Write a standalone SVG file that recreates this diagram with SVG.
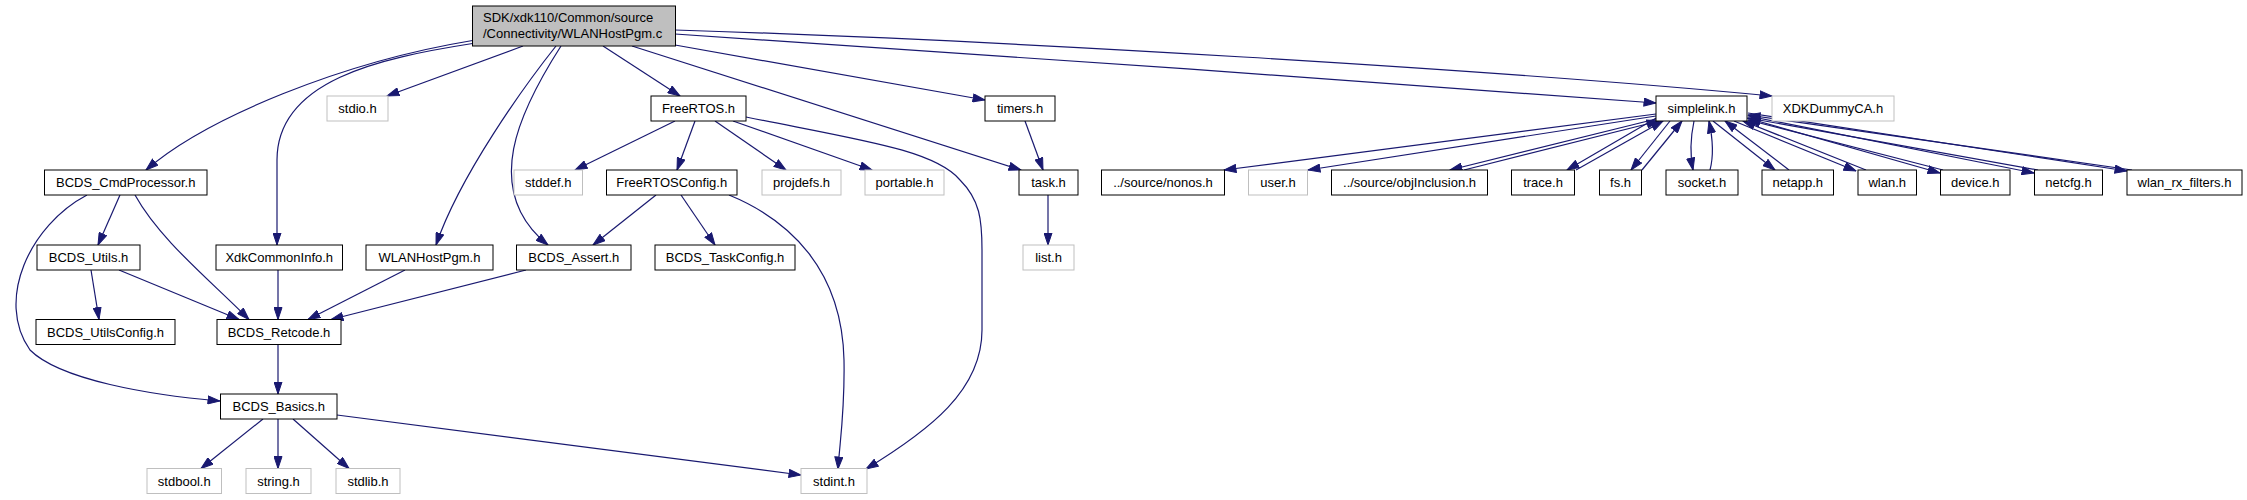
<svg xmlns="http://www.w3.org/2000/svg" width="2247" height="500" viewBox="0 0 2247 500">
<style>
.n rect{fill:#ffffff;stroke:#000000;stroke-width:1}
.n.g rect{stroke:#bfbfbf}
.n.m rect{fill:#bfbfbf}
text{font-family:"Liberation Sans",Arial,sans-serif;font-size:13px;fill:#000000;text-anchor:middle}
.n.m text{text-anchor:start}
#edges path{fill:none;stroke:#191970;stroke-width:1.2;marker-end:url(#a)}
</style>
<defs>
<marker id="a" markerWidth="13" markerHeight="9" refX="12.5" refY="4.5" orient="auto" markerUnits="userSpaceOnUse">
<path d="M0.5,0.5 L12.5,4.5 L0.5,8.5 z" fill="#191970" stroke="#191970" stroke-width="1"/>
</marker>
</defs>
<rect width="2247" height="500" fill="#ffffff"/>
<g id="edges">
<path d="M472.5,40.5 C342,62 206,118 146,170"/>
<path d="M472.5,43.5 C380,58 277,80 277,160 L277,245"/>
<path d="M523,46 L387,96"/>
<path d="M556,46 C525,85 460,175 436,245"/>
<path d="M561,46 C520,110 480,190 548,245"/>
<path d="M603,46 L680,96"/>
<path d="M632,46 L1021,170"/>
<path d="M675,45 L985,100"/>
<path d="M675,34 C900,49 1400,83 1656,103"/>
<path d="M675,30 C1000,40 1500,70 1772,96"/>
<path d="M675,121 L575,170"/>
<path d="M695,121 L677,170"/>
<path d="M715,121 L786,170"/>
<path d="M733,121 L872,170"/>
<path d="M746,117 C860,140 935,150 960,180 C980,200 982,220 982,250 L982,330 C982,390 930,430 866,469"/>
<path d="M656,195 L593,245"/>
<path d="M681,195 L715,245"/>
<path d="M729,195 C790,220 842,270 844,360 C845,410 840,440 838,469"/>
<path d="M120,195 L98,245"/>
<path d="M135,195 C160,240 210,280 249,319.5"/>
<path d="M87,195 C30,225 -5,300 30,350 C60,380 150,395 220,401"/>
<path d="M91,270 L99,319.5"/>
<path d="M119,270 L239,319.5"/>
<path d="M278,270 L278,319.5"/>
<path d="M405,270 L308,319.5"/>
<path d="M526,270 L331,319.5"/>
<path d="M278,345 L278,394"/>
<path d="M263,419 L201,468.5"/>
<path d="M278,419 L278,468.5"/>
<path d="M293,419 L349,468.5"/>
<path d="M337,415 L801,475"/>
<path d="M1025,121 L1043,170"/>
<path d="M1048,195 L1048,245"/>
<path d="M1656,114 L1224,170"/>
<path d="M1656,116 L1308,170"/>
<path d="M1656,119 L1450,170"/>
<path d="M1464,170 L1659,121"/>
<path d="M1658,117 L1567,170"/>
<path d="M1576,170 L1663,121"/>
<path d="M1670,121 L1631,170"/>
<path d="M1642,170 L1682,121"/>
<path d="M1694,121 C1690,140 1690,155 1693,170"/>
<path d="M1710,170 C1714,155 1712,135 1709,121"/>
<path d="M1713,121 L1775,170"/>
<path d="M1789,170 L1725,121"/>
<path d="M1734,121 L1856,171"/>
<path d="M1866,170 L1743,121"/>
<path d="M1747,118 L1940,173"/>
<path d="M1943,170 L1748,120"/>
<path d="M1748,116 L2034,173"/>
<path d="M2038,170 L1748,118"/>
<path d="M1748,113 L2127,171"/>
<path d="M2132,170 L1748,115"/>
</g>
<g id="n_main" class="n m"><rect x="472.5" y="6" width="203" height="40"/><text x="483" y="21.5">SDK/xdk110/Common/source</text><text x="483" y="38">/Connectivity/WLANHostPgm.c</text></g>
<g id="n_stdio" class="n g"><rect x="327" y="96" width="61" height="25"/><text x="357.5" y="113">stdio.h</text></g>
<g id="n_freertos" class="n"><rect x="651" y="96" width="95" height="25"/><text x="698.5" y="113">FreeRTOS.h</text></g>
<g id="n_timers" class="n"><rect x="985" y="96" width="70" height="25"/><text x="1020" y="113">timers.h</text></g>
<g id="n_simplelink" class="n"><rect x="1656" y="96" width="91" height="25"/><text x="1701.5" y="113">simplelink.h</text></g>
<g id="n_xdkdummyca" class="n g"><rect x="1772" y="96" width="122" height="25"/><text x="1833" y="113">XDKDummyCA.h</text></g>
<g id="n_cmdprocessor" class="n"><rect x="44.5" y="170" width="162.5" height="25"/><text x="125.75" y="187">BCDS_CmdProcessor.h</text></g>
<g id="n_stddef" class="n g"><rect x="514" y="170" width="68.5" height="25"/><text x="548.25" y="187">stddef.h</text></g>
<g id="n_freertosconfig" class="n"><rect x="606.5" y="170" width="130.5" height="25"/><text x="671.75" y="187">FreeRTOSConfig.h</text></g>
<g id="n_projdefs" class="n g"><rect x="762" y="170" width="79" height="25"/><text x="801.5" y="187">projdefs.h</text></g>
<g id="n_portable" class="n g"><rect x="865" y="170" width="79" height="25"/><text x="904.5" y="187">portable.h</text></g>
<g id="n_task" class="n"><rect x="1019" y="170" width="59" height="25"/><text x="1048.5" y="187">task.h</text></g>
<g id="n_nonos" class="n"><rect x="1101.5" y="170" width="123" height="25"/><text x="1163" y="187">../source/nonos.h</text></g>
<g id="n_user" class="n g"><rect x="1248.5" y="170" width="59" height="25"/><text x="1278" y="187">user.h</text></g>
<g id="n_objinclusion" class="n"><rect x="1331.5" y="170" width="156" height="25"/><text x="1409.5" y="187">../source/objInclusion.h</text></g>
<g id="n_trace" class="n"><rect x="1511.5" y="170" width="63" height="25"/><text x="1543" y="187">trace.h</text></g>
<g id="n_fs" class="n"><rect x="1599.5" y="170" width="42" height="25"/><text x="1620.5" y="187">fs.h</text></g>
<g id="n_socket" class="n"><rect x="1666" y="170" width="72" height="25"/><text x="1702" y="187">socket.h</text></g>
<g id="n_netapp" class="n"><rect x="1762" y="170" width="71.5" height="25"/><text x="1797.75" y="187">netapp.h</text></g>
<g id="n_wlan" class="n"><rect x="1858" y="170" width="58.5" height="25"/><text x="1887.25" y="187">wlan.h</text></g>
<g id="n_device" class="n"><rect x="1940.5" y="170" width="69.5" height="25"/><text x="1975.25" y="187">device.h</text></g>
<g id="n_netcfg" class="n"><rect x="2034.5" y="170" width="68" height="25"/><text x="2068.5" y="187">netcfg.h</text></g>
<g id="n_wlanrxfilters" class="n"><rect x="2127" y="170" width="115" height="25"/><text x="2184.5" y="187">wlan_rx_filters.h</text></g>
<g id="n_utils" class="n"><rect x="37" y="245" width="103" height="25"/><text x="88.5" y="262">BCDS_Utils.h</text></g>
<g id="n_xdkcommoninfo" class="n"><rect x="216" y="245" width="126.5" height="25"/><text x="279.25" y="262">XdkCommonInfo.h</text></g>
<g id="n_wlanhostpgm" class="n"><rect x="366" y="245" width="127" height="25"/><text x="429.5" y="262">WLANHostPgm.h</text></g>
<g id="n_assert" class="n"><rect x="516.5" y="245" width="114.5" height="25"/><text x="573.75" y="262">BCDS_Assert.h</text></g>
<g id="n_taskconfig" class="n"><rect x="655" y="245" width="140" height="25"/><text x="725" y="262">BCDS_TaskConfig.h</text></g>
<g id="n_list" class="n g"><rect x="1023" y="245" width="51" height="25"/><text x="1048.5" y="262">list.h</text></g>
<g id="n_utilsconfig" class="n"><rect x="36" y="319.5" width="139" height="25"/><text x="105.5" y="336.5">BCDS_UtilsConfig.h</text></g>
<g id="n_retcode" class="n"><rect x="217" y="319.5" width="124" height="25"/><text x="279" y="336.5">BCDS_Retcode.h</text></g>
<g id="n_basics" class="n"><rect x="220.5" y="394" width="116.5" height="25"/><text x="278.75" y="411">BCDS_Basics.h</text></g>
<g id="n_stdbool" class="n g"><rect x="147" y="468.5" width="74.5" height="25"/><text x="184.25" y="485.5">stdbool.h</text></g>
<g id="n_string" class="n g"><rect x="246" y="468.5" width="65" height="25"/><text x="278.5" y="485.5">string.h</text></g>
<g id="n_stdlib" class="n g"><rect x="336" y="468.5" width="64" height="25"/><text x="368" y="485.5">stdlib.h</text></g>
<g id="n_stdint" class="n g"><rect x="801" y="468.5" width="66" height="25"/><text x="834" y="485.5">stdint.h</text></g>
</svg>
